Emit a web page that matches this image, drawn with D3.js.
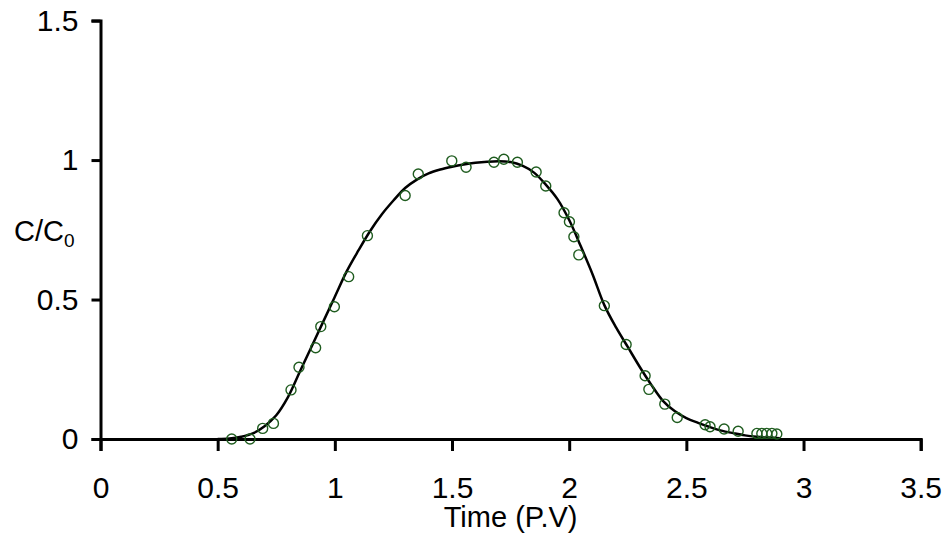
<!DOCTYPE html>
<html lang="en">
<head>
    <meta charset="utf-8">
    <title>C/C0 breakthrough curve</title>
    <script src="https://d3js.org/d3.v7.min.js"></script>
    <style>
        body { margin: 0; background: white; }
        svg text { font-family: "Liberation Sans", Arial, sans-serif; fill: black; }
    </style>
</head>
<body>
    <div id="chart"></div>
    <script>
        // measured points (time in pore volumes, C/C0)
        var obsTime = [0.56, 0.638, 0.692, 0.738, 0.813, 0.847, 0.918, 0.94, 0.998, 1.059,
            1.139, 1.30, 1.356, 1.499, 1.56, 1.679, 1.721, 1.779, 1.859, 1.90,
            1.978, 2.001, 2.02, 2.041, 2.15, 2.243, 2.324, 2.34, 2.408, 2.461,
            2.58, 2.601, 2.661, 2.721, 2.801, 2.822, 2.843, 2.865, 2.886];
        var obsConc = [0.0, 0.0, 0.038, 0.056, 0.176, 0.257, 0.327, 0.403, 0.474, 0.582,
            0.729, 0.873, 0.95, 0.997, 0.974, 0.992, 1.003, 0.992, 0.957, 0.907,
            0.811, 0.779, 0.725, 0.66, 0.478, 0.339, 0.227, 0.178, 0.125, 0.077,
            0.051, 0.044, 0.036, 0.028, 0.02, 0.02, 0.02, 0.02, 0.018];

        // fitted curve
        var fitTime = [0.50, 0.55, 0.60, 0.65, 0.70, 0.75, 0.80, 0.85, 0.90, 0.95,
            1.00, 1.05, 1.10, 1.15, 1.20, 1.25, 1.30, 1.35, 1.40, 1.45,
            1.50, 1.55, 1.60, 1.65, 1.70, 1.75, 1.80, 1.85, 1.90, 1.95,
            2.00, 2.05, 2.10, 2.15, 2.20, 2.25, 2.30, 2.35, 2.40, 2.45,
            2.50, 2.55, 2.60, 2.65, 2.70, 2.75, 2.80, 2.85, 2.90];
        var fitConc = [0.0, 0.002, 0.008, 0.02, 0.046, 0.085, 0.15, 0.24, 0.33, 0.42,
            0.51, 0.60, 0.675, 0.745, 0.805, 0.855, 0.9, 0.93, 0.952, 0.966,
            0.976, 0.984, 0.99, 0.994, 0.996, 0.993, 0.98, 0.955, 0.912, 0.86,
            0.785, 0.69, 0.59, 0.48, 0.40, 0.33, 0.26, 0.195, 0.137, 0.10,
            0.075, 0.058, 0.043, 0.03, 0.021, 0.013, 0.008, 0.005, 0.003];

        var xTicks = [0, 0.5, 1, 1.5, 2, 2.5, 3, 3.5];
        var yTicks = [0, 0.5, 1, 1.5];

        var width = 944,
            height = 539,
            margin = {top: 20.6, right: 23.3, bottom: 100, left: 100.5};

        var svg = d3.select("#chart")
            .append("svg")
            .attr("width", width)
            .attr("height", height);

        var x = d3.scaleLinear().domain([0, 3.5]).range([margin.left, width - margin.right]);
        var y = d3.scaleLinear().domain([0, 1.5]).range([height - margin.bottom, margin.top]);

        // x axis
        var xAxis = svg.append("g")
            .attr("transform", "translate(0," + y(0) + ")")
            .call(d3.axisBottom(x).tickValues(xTicks).tickFormat(d3.format("")).tickSizeOuter(0).tickSize(12).tickPadding(26));

        // y axis
        var yAxis = svg.append("g")
            .attr("transform", "translate(" + x(0) + ",0)")
            .call(d3.axisLeft(y).tickValues(yTicks).tickFormat(d3.format("")).tickSizeOuter(0).tickSize(9).tickPadding(13));

        [xAxis, yAxis].forEach(function (g) {
            g.select(".domain").attr("stroke", "black").attr("stroke-width", 3);
            g.selectAll(".tick line").attr("stroke", "black").attr("stroke-width", 3);
            g.selectAll(".tick text").style("font-size", "30px").attr("fill", "black");
        });

        // fitted line
        var line = d3.line()
            .x(function (d) { return x(d[0]); })
            .y(function (d) { return y(d[1]); })
            .curve(d3.curveCatmullRom);

        svg.append("path")
            .datum(d3.zip(fitTime, fitConc))
            .attr("d", line)
            .attr("fill", "none")
            .attr("stroke", "black")
            .attr("stroke-width", 2.5);

        // observed points
        svg.selectAll("circle.obs")
            .data(d3.zip(obsTime, obsConc))
            .enter()
            .append("circle")
            .attr("class", "obs")
            .attr("cx", function (d) { return x(d[0]); })
            .attr("cy", function (d) { return y(d[1]); })
            .attr("r", 5)
            .attr("fill", "none")
            .attr("stroke", "#1f5c1f")
            .attr("stroke-width", 1.4);

        // axis titles
        svg.append("text")
            .attr("x", (x(0) + x(3.5)) / 2)
            .attr("y", 527)
            .attr("text-anchor", "middle")
            .style("font-size", "29px")
            .text("Time (P.V)");

        var yTitle = svg.append("text")
            .attr("x", 14)
            .attr("y", 241)
            .style("font-size", "29px");
        yTitle.append("tspan").text("C/C");
        yTitle.append("tspan").attr("dy", 6).style("font-size", "19px").text("0");
    </script>
</body>
</html>
